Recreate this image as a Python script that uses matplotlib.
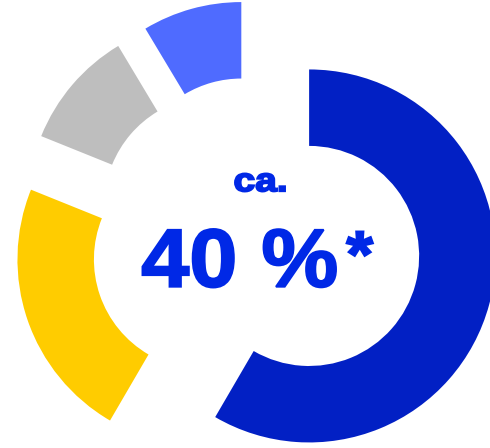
# Exploded donut chart with a big centre label ("ca. 40 %*").
import matplotlib.pyplot as plt
from matplotlib.font_manager import FontProperties
from matplotlib.patches import PathPatch
from matplotlib.textpath import TextPath
from matplotlib.transforms import Affine2D

# Data (clockwise from 12 o'clock)
labels = ["Segment A", "Segment B", "Segment C", "Segment D"]
shares = [58.4, 22.7, 10.3, 8.6]
colors = ["#0220C4", "#FFCC00", "#BEBEBE", "#4F6BFF"]

center_small = "ca."
center_big = "40 %"
center_mark = "*"
text_color = "#0028E6"

W, H = 490, 448
R_PX = 186.5            # outer radius in pixels
CX, CY = 256, 241.6     # pie centre in pixels (from top-left)

fig = plt.figure(figsize=(W / 100, H / 100), dpi=100)
ax = fig.add_axes([0, 0, 1, 1])

ax.pie(shares, colors=colors, startangle=90, counterclock=False,
       explode=[0.295] * len(shares), radius=1.0,
       wedgeprops=dict(width=0.41, edgecolor="none", linewidth=0))

ax.set_aspect("auto")
ax.set_xlim(-CX / R_PX, (W - CX) / R_PX)
ax.set_ylim(-(H - CY) / R_PX, CY / R_PX)
ax.axis("off")

font = FontProperties(family="Liberation Sans", weight="bold")


def fit_text(s, x0, x1, ytop, ybot):
    # heavy, slightly wide lettering: fit a text path into a pixel box
    tp = TextPath((0, 0), s, size=100, prop=font)
    bb = tp.get_extents()
    sx = (x1 - x0) / bb.width
    sy = (ybot - ytop) / bb.height
    tr = (Affine2D()
          .translate(-bb.x0, -bb.y0)
          .scale(sx, sy)
          .translate(x0, H - ybot)
          .translate(-CX, -(H - CY))
          .scale(1 / R_PX))
    ax.add_patch(PathPatch(tr.transform_path(tp), facecolor=text_color,
                           edgecolor=text_color, linewidth=1.4))


fit_text(center_small, 235, 285, 173.5, 191.5)
fit_text(center_big, 142.5, 336, 229, 287.5)
fit_text(center_mark, 346.5, 373, 231.5, 256)

fig.savefig("out.png", dpi=100)
